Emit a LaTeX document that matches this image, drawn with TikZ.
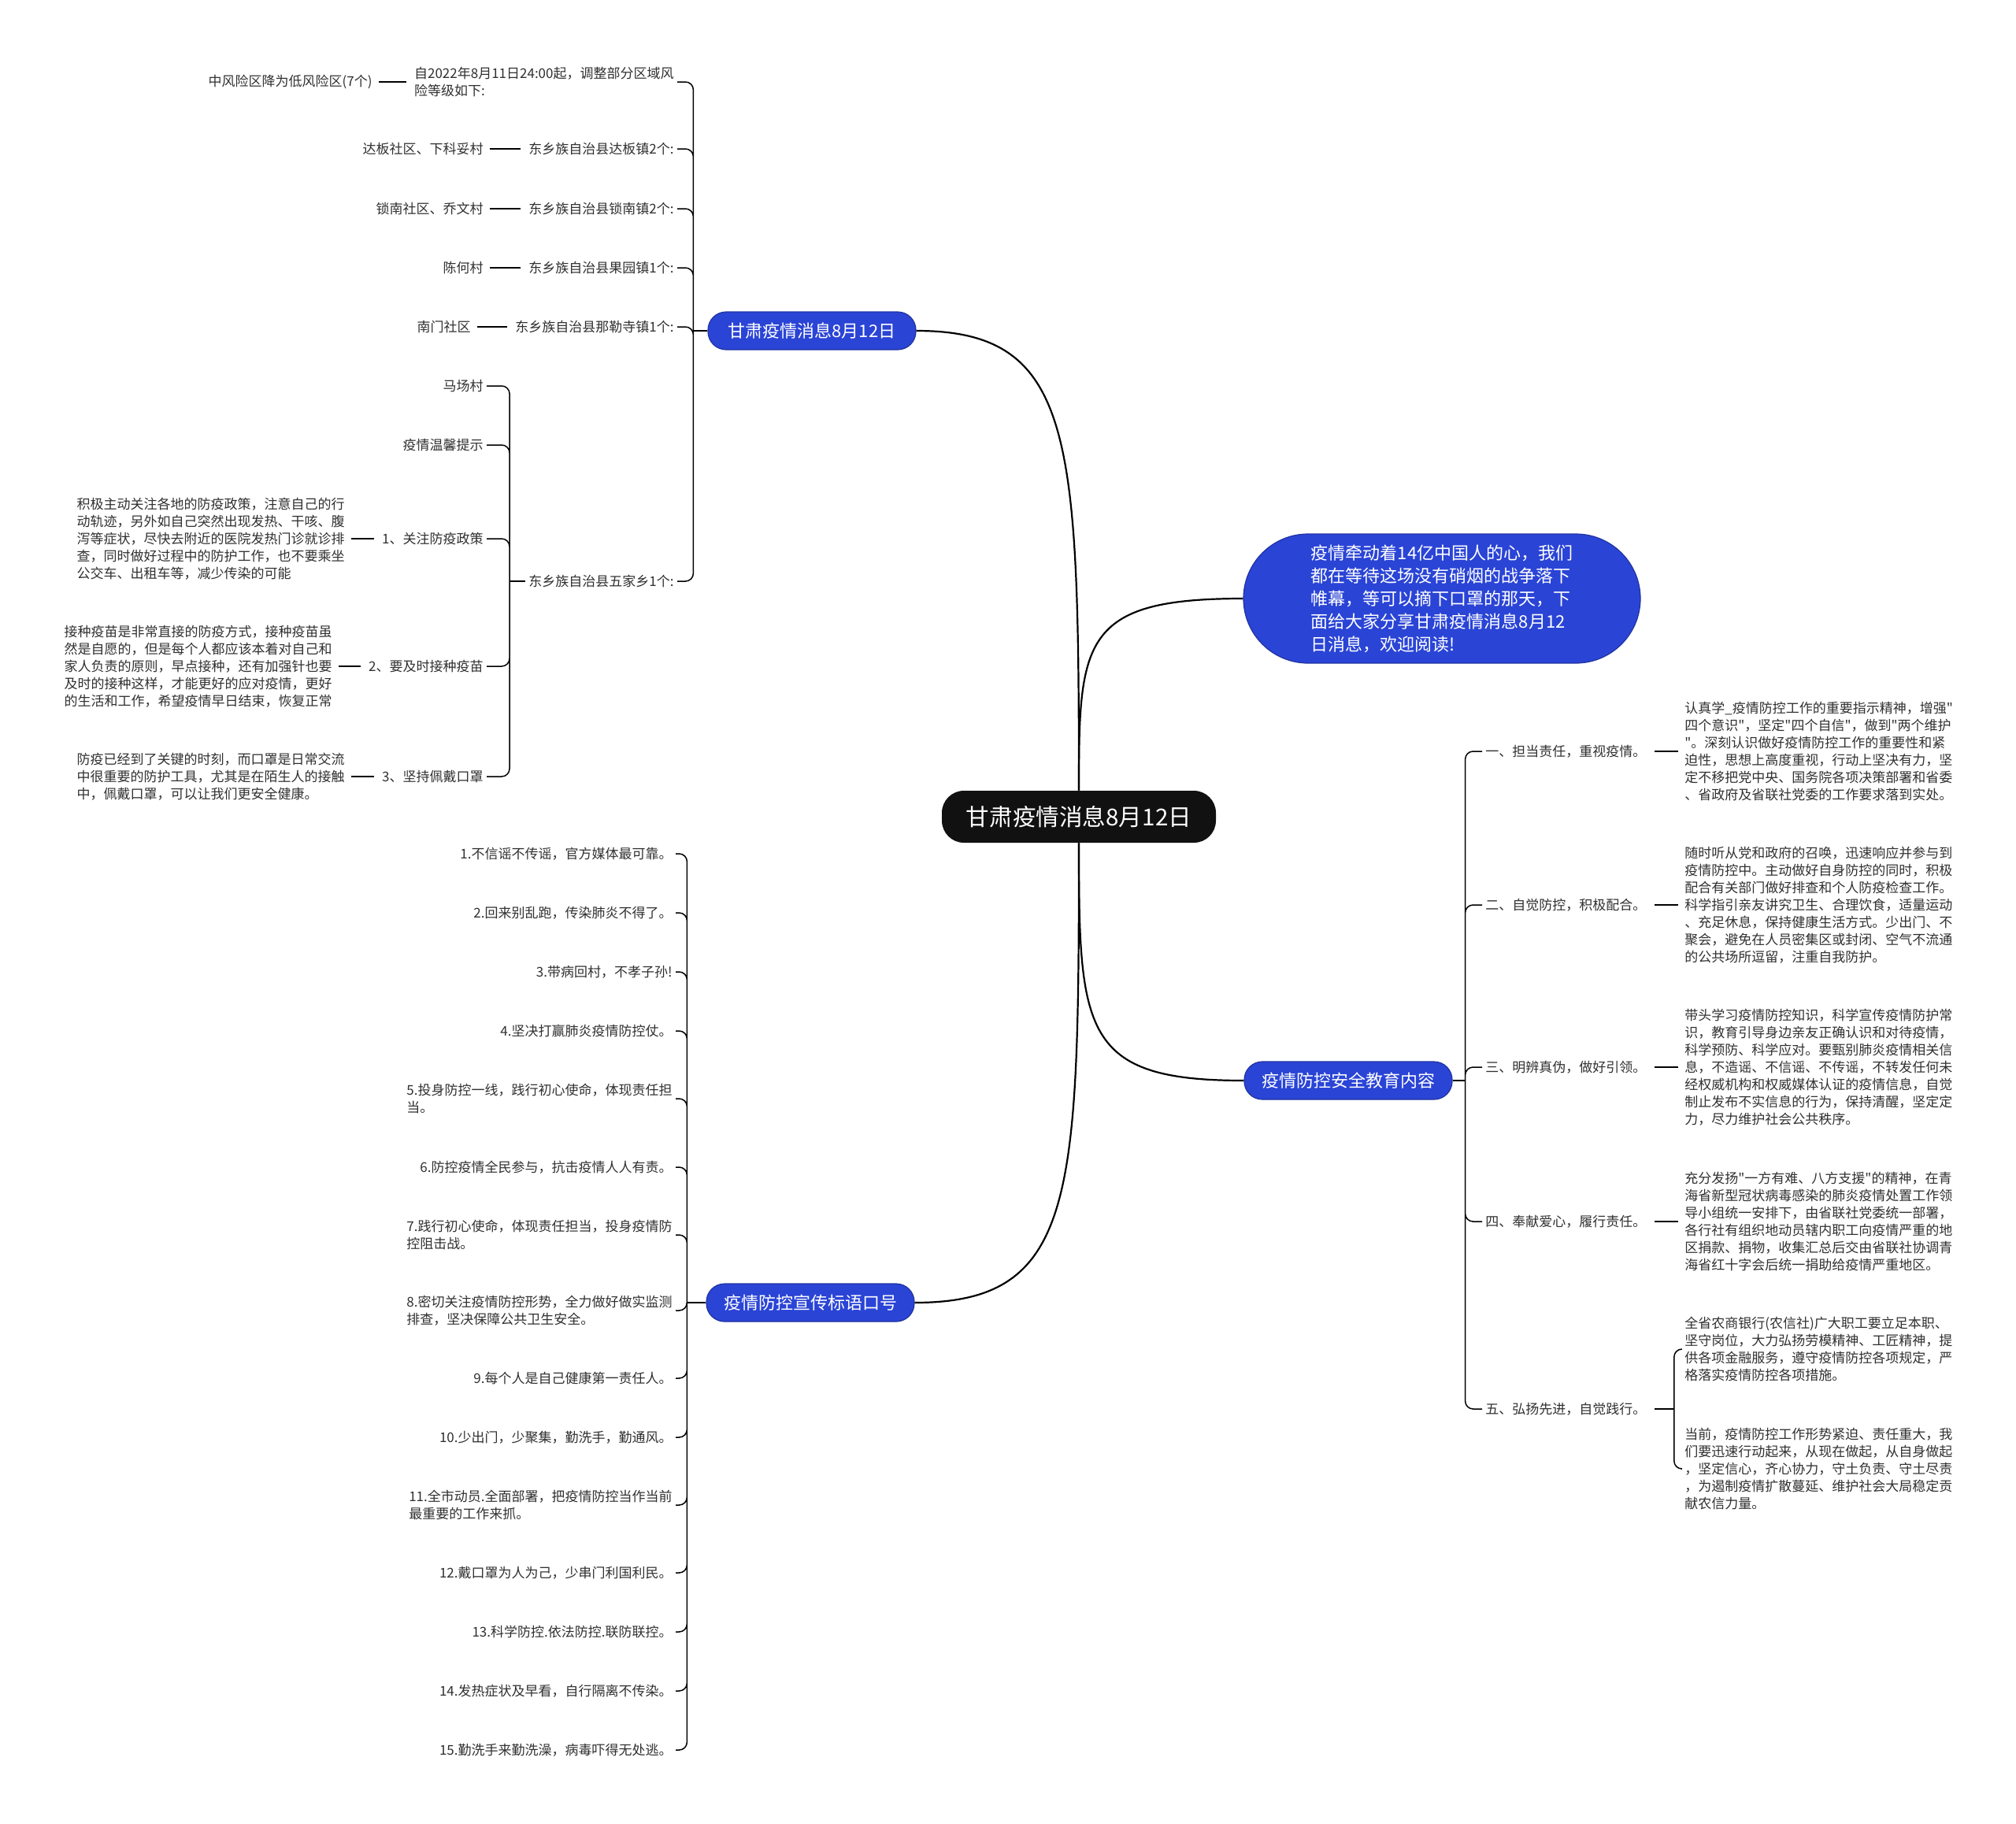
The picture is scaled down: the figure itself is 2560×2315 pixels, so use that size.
\documentclass[tikz,border=0pt]{standalone}
\usepackage{fontspec}
\setmainfont{Noto Sans CJK SC}[Ligatures=TeXOff]
\usepackage{tikz}
\usetikzlibrary{calc}
\definecolor{MM_Blue}{HTML}{2A44D6}
\definecolor{MM_Ink}{HTML}{303030}
\definecolor{MM_Root}{HTML}{111111}

\begin{document}
\begin{tikzpicture}[x=0.5pt, y=-0.5pt,
    rootbox/.style={fill=MM_Root, text=white, rounded corners=14pt, minimum width=174pt, minimum height=33pt, inner sep=0pt, font=\fontsize{14.8}{18}\selectfont},
    topic/.style={fill=MM_Blue, draw=MM_Blue!75!black, line width=0.6pt, text=white, rounded corners=11.5pt, minimum width=132pt, minimum height=24pt, inner sep=0pt, font=\fontsize{11}{14}\selectfont},
    introbox/.style={topic, rounded corners=41pt, minimum width=252pt, minimum height=82pt, align=left, font=\fontsize{11}{14.5}\selectfont},
    leaf/.style={inner sep=2pt, text=MM_Ink, align=left, font=\fontsize{8.5}{11}\selectfont},
    lleaf/.style={leaf, anchor=east},
    rleaf/.style={leaf, anchor=west},
    trunk/.style={line width=1.1pt},
    hook/.style={line width=0.75pt, rounded corners=5pt},
    dashlink/.style={line width=1.3pt, shorten <=3pt, shorten >=2pt}]
    \useasboundingbox[fill=white] (0,0) rectangle (2560,2315);

    \node[rootbox] (root) at (1370,1037) {甘肃疫情消息8月12日};
    \node[topic] (b1) at (1031,420) {甘肃疫情消息8月12日};
    \node[introbox] (intro) at (1831,760) {疫情牵动着14亿中国人的心，我们\\都在等待这场没有硝烟的战争落下\\帷幕，等可以摘下口罩的那天，下\\面给大家分享甘肃疫情消息8月12\\日消息，欢迎阅读!};
    \node[topic] (b2) at (1712,1372) {疫情防控安全教育内容};
    \node[topic] (b3) at (1029,1654) {疫情防控宣传标语口号};

    \draw[trunk] (root.north) .. controls +(0,-450) and +(200,0) .. (b1.east);
    \draw[trunk] (root.north) .. controls +(0,-190) and +(-205,0) .. (intro.west);
    \draw[trunk] (root.south) .. controls +(0,240) and +(-205,0) .. (b2.west);
    \draw[trunk] (root.south) .. controls +(0,450) and +(205,0) .. (b3.east);

    \node[lleaf] (a1) at (860,104) {自2022年8月11日24:00起，调整部分区域风\\险等级如下:};
    \node[lleaf] (a1x) at (477,104) {中风险区降为低风险区(7个)};
    \node[lleaf] (a2) at (860,189) {东乡族自治县达板镇2个:};
    \node[lleaf] (a2x) at (618,189) {达板社区、下科妥村};
    \node[lleaf] (a3) at (860,265) {东乡族自治县锁南镇2个:};
    \node[lleaf] (a3x) at (618,265) {锁南社区、乔文村};
    \node[lleaf] (a4) at (860,340) {东乡族自治县果园镇1个:};
    \node[lleaf] (a4x) at (618,340) {陈何村};
    \node[lleaf] (a5) at (860,415) {东乡族自治县那勒寺镇1个:};
    \node[lleaf] (a5x) at (602,415) {南门社区};
    \node[lleaf] (a6) at (860,738) {东乡族自治县五家乡1个:};
    \node[lleaf] (w1) at (618,490) {马场村};
    \node[lleaf] (w2) at (618,565) {疫情温馨提示};
    \node[lleaf] (w3) at (618,684) {1、关注防疫政策};
    \node[lleaf] (w4) at (618,846) {2、要及时接种疫苗};
    \node[lleaf] (w5) at (618,986) {3、坚持佩戴口罩};
    \node[lleaf] (w3x) at (442,684) {积极主动关注各地的防疫政策，注意自己的行\\动轨迹，另外如自己突然出现发热、干咳、腹\\泻等症状，尽快去附近的医院发热门诊就诊排\\查，同时做好过程中的防护工作，也不要乘坐\\公交车、出租车等，减少传染的可能};
    \node[lleaf] (w4x) at (426,846) {接种疫苗是非常直接的防疫方式，接种疫苗虽\\然是自愿的，但是每个人都应该本着对自己和\\家人负责的原则，早点接种，还有加强针也要\\及时的接种这样，才能更好的应对疫情，更好\\的生活和工作，希望疫情早日结束，恢复正常};
    \node[lleaf] (w5x) at (442,986) {防疫已经到了关键的时刻，而口罩是日常交流\\中很重要的防护工具，尤其是在陌生人的接触\\中，佩戴口罩，可以让我们更安全健康。};

    \coordinate (j1) at ($(b1.west)+(-18,0)$);
    \coordinate (j6) at ($(a6.west)+(-20,0)$);
    \draw[hook] (b1.west) -- (j1);
    \draw[hook] (j1) |- (a1.east) (j1) |- (a2.east) (j1) |- (a3.east) (j1) |- (a4.east) (j1) |- (a5.east) (j1) |- (a6.east);
    \draw[hook] (a6.west) -- (j6);
    \draw[hook] (j6) |- (w1.east) (j6) |- (w2.east) (j6) |- (w3.east) (j6) |- (w4.east) (j6) |- (w5.east);
    \draw[dashlink] (a1.west) -- (a1x.east);
    \draw[dashlink] (a2.west) -- (a2x.east);
    \draw[dashlink] (a3.west) -- (a3x.east);
    \draw[dashlink] (a4.west) -- (a4x.east);
    \draw[dashlink] (a5.west) -- (a5x.east);
    \draw[dashlink] (w3.west) -- (w3x.east);
    \draw[dashlink] (w4.west) -- (w4x.east);
    \draw[dashlink] (w5.west) -- (w5x.east);

    \node[lleaf] (s1) at (858,1084) {1.不信谣不传谣，官方媒体最可靠。};
    \node[lleaf] (s2) at (858,1159) {2.回来别乱跑，传染肺炎不得了。};
    \node[lleaf] (s3) at (858,1234) {3.带病回村，不孝子孙!};
    \node[lleaf] (s4) at (858,1309) {4.坚决打赢肺炎疫情防控仗。};
    \node[lleaf] (s5) at (858,1395) {5.投身防控一线，践行初心使命，体现责任担\\当。};
    \node[lleaf] (s6) at (858,1482) {6.防控疫情全民参与，抗击疫情人人有责。};
    \node[lleaf] (s7) at (858,1568) {7.践行初心使命，体现责任担当，投身疫情防\\控阻击战。};
    \node[lleaf] (s8) at (858,1664) {8.密切关注疫情防控形势，全力做好做实监测\\排查，坚决保障公共卫生安全。};
    \node[lleaf] (s9) at (858,1750) {9.每个人是自己健康第一责任人。};
    \node[lleaf] (s10) at (858,1825) {10.少出门，少聚集，勤洗手，勤通风。};
    \node[lleaf] (s11) at (858,1911) {11.全市动员.全面部署，把疫情防控当作当前\\最重要的工作来抓。};
    \node[lleaf] (s12) at (858,1997) {12.戴口罩为人为己，少串门利国利民。};
    \node[lleaf] (s13) at (858,2072) {13.科学防控.依法防控.联防联控。};
    \node[lleaf] (s14) at (858,2147) {14.发热症状及早看，自行隔离不传染。};
    \node[lleaf] (s15) at (858,2222) {15.勤洗手来勤洗澡，病毒吓得无处逃。};

    \coordinate (j3) at ($(b3.west)+(-24,0)$);
    \draw[hook] (b3.west) -- (j3);
    \draw[hook] (j3) |- (s1.east) (j3) |- (s2.east) (j3) |- (s3.east) (j3) |- (s4.east) (j3) |- (s5.east) (j3) |- (s6.east) (j3) |- (s7.east) (j3) |- (s8.east);
    \draw[hook] (j3) |- (s9.east) (j3) |- (s10.east) (j3) |- (s11.east) (j3) |- (s12.east) (j3) |- (s13.east) (j3) |- (s14.east) (j3) |- (s15.east);

    \node[rleaf] (r1) at (1882,954) {一、担当责任，重视疫情。};
    \node[rleaf] (r1x) at (2135,954) {认真学\_疫情防控工作的重要指示精神，增强"\\四个意识"，坚定"四个自信"，做到"两个维护\\"。深刻认识做好疫情防控工作的重要性和紧\\迫性，思想上高度重视，行动上坚决有力，坚\\定不移把党中央、国务院各项决策部署和省委\\、省政府及省联社党委的工作要求落到实处。};
    \node[rleaf] (r2) at (1882,1149) {二、自觉防控，积极配合。};
    \node[rleaf] (r2x) at (2135,1149) {随时听从党和政府的召唤，迅速响应并参与到\\疫情防控中。主动做好自身防控的同时，积极\\配合有关部门做好排查和个人防疫检查工作。\\科学指引亲友讲究卫生、合理饮食，适量运动\\、充足休息，保持健康生活方式。少出门、不\\聚会，避免在人员密集区或封闭、空气不流通\\的公共场所逗留，注重自我防护。};
    \node[rleaf] (r3) at (1882,1355) {三、明辨真伪，做好引领。};
    \node[rleaf] (r3x) at (2135,1355) {带头学习疫情防控知识，科学宣传疫情防护常\\识，教育引导身边亲友正确认识和对待疫情，\\科学预防、科学应对。要甄别肺炎疫情相关信\\息，不造谣、不信谣、不传谣，不转发任何未\\经权威机构和权威媒体认证的疫情信息，自觉\\制止发布不实信息的行为，保持清醒，坚定定\\力，尽力维护社会公共秩序。};
    \node[rleaf] (r4) at (1882,1551) {四、奉献爱心，履行责任。};
    \node[rleaf] (r4x) at (2135,1551) {充分发扬"一方有难、八方支援"的精神，在青\\海省新型冠状病毒感染的肺炎疫情处置工作领\\导小组统一安排下，由省联社党委统一部署，\\各行社有组织地动员辖内职工向疫情严重的地\\区捐款、捐物，收集汇总后交由省联社协调青\\海省红十字会后统一捐助给疫情严重地区。};
    \node[rleaf] (r5) at (1882,1789) {五、弘扬先进，自觉践行。};
    \node[rleaf] (r5a) at (2135,1713) {全省农商银行(农信社)广大职工要立足本职、\\坚守岗位，大力弘扬劳模精神、工匠精神，提\\供各项金融服务，遵守疫情防控各项规定，严\\格落实疫情防控各项措施。};
    \node[rleaf] (r5b) at (2135,1865) {当前，疫情防控工作形势紧迫、责任重大，我\\们要迅速行动起来，从现在做起，从自身做起\\，坚定信心，齐心协力，守土负责、守土尽责\\，为遏制疫情扩散蔓延、维护社会大局稳定贡\\献农信力量。};

    \coordinate (j2) at ($(b2.east)+(16,0)$);
    \coordinate (j5) at ($(r5.east)+(31,0)$);
    \draw[hook] (b2.east) -- (j2);
    \draw[hook] (j2) |- (r1.west) (j2) |- (r2.west) (j2) |- (r3.west) (j2) |- (r4.west) (j2) |- (r5.west);
    \draw[dashlink] (r1.east) -- (r1x.west);
    \draw[dashlink] (r2.east) -- (r2x.west);
    \draw[dashlink] (r3.east) -- (r3x.west);
    \draw[dashlink] (r4.east) -- (r4x.west);
    \draw[dashlink, shorten >=0pt] (r5.east) -- (j5);
    \draw[hook] (j5) |- (r5a.west) (j5) |- (r5b.west);
\end{tikzpicture}
\end{document}
